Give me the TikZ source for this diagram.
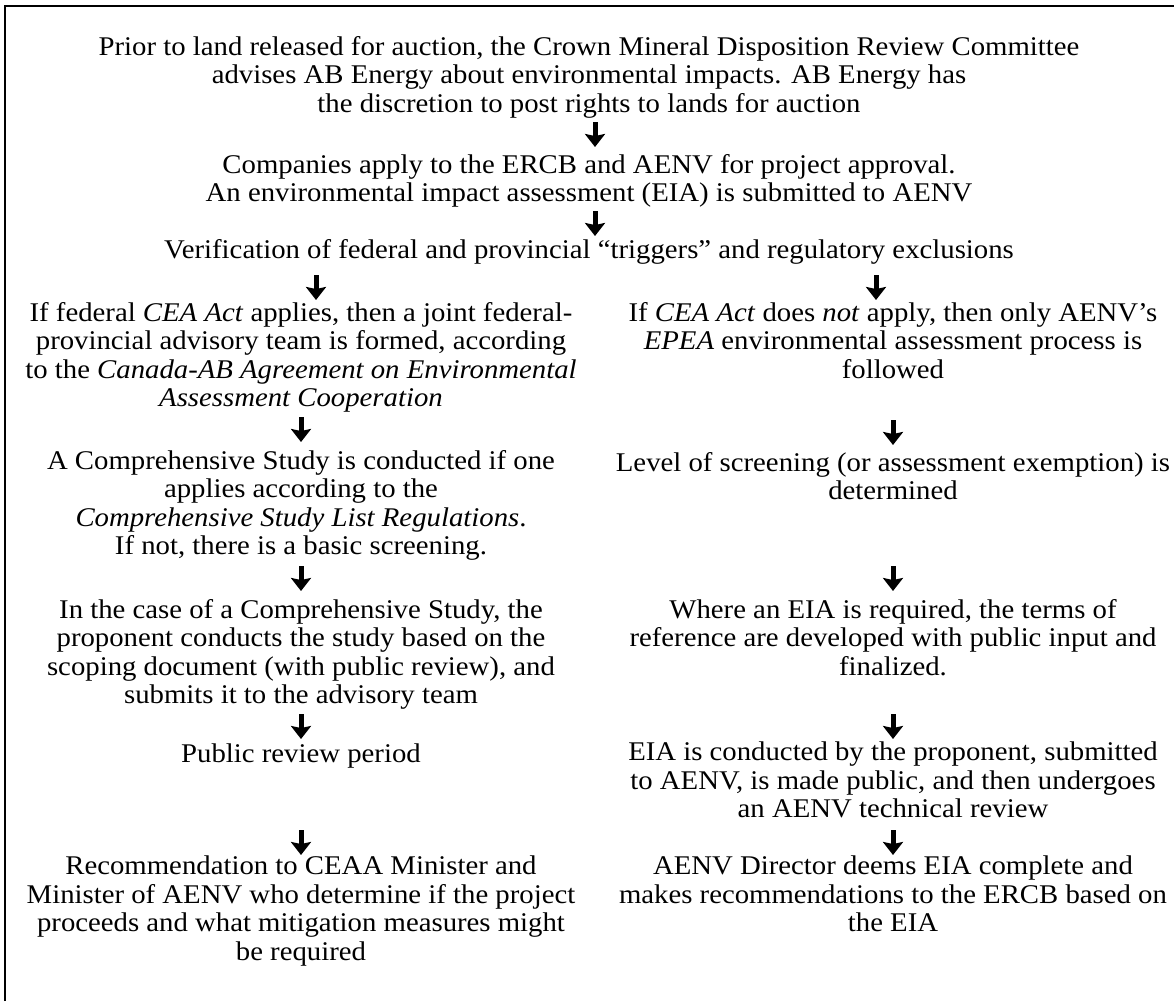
\documentclass[tikz,border=0pt]{standalone}
\usepackage{fontspec}
\setmainfont[FakeStretch=1.065]{Liberation Serif}
\usetikzlibrary{arrows.meta}
\begin{document}
\begin{tikzpicture}[x=1pt,y=-1pt,
  txt/.style={anchor=north, inner sep=0pt, align=center,
    font=\fontsize{27}{28.5}\selectfont, execute at begin node=\strut},
  arr/.style={line width=5pt, -{Stealth[length=13pt,width=20pt,inset=2pt]}}]
\useasboundingbox (0,0) rectangle (1174,1001);
\draw[line width=2pt] (5,1001) -- (5,6) -- (1174,6);
% top blocks (north = baseline - 20)
\node[txt] (t1) at (589,36) {Prior to land released for auction, the Crown Mineral Disposition Review Committee\\advises AB Energy about environmental impacts. AB Energy has\\the discretion to post rights to lands for auction};
\node[txt] (t2) at (589,154) {Companies apply to the ERCB and AENV for project approval.\\An environmental impact assessment (EIA) is submitted to AENV};
\node[txt] (t3) at (589,238) {Verification of federal and provincial “triggers” and regulatory exclusions};
% left column
\node[txt] (l1) at (301,302) {If federal \textit{CEA Act} applies, then a joint federal-\\provincial advisory team is formed, according\\to the \textit{Canada-AB Agreement on Environmental}\\\textit{Assessment Cooperation}};
\node[txt] (l2) at (301,450) {A Comprehensive Study is conducted if one\\applies according to the\\\textit{Comprehensive Study List Regulations}.\\If not, there is a basic screening.};
\node[txt] (l3) at (301,599) {In the case of a Comprehensive Study, the\\proponent conducts the study based on the\\scoping document (with public review), and\\submits it to the advisory team};
\node[txt] (l4) at (301,742) {Public review period};
\node[txt] (l5) at (301,856) {Recommendation to CEAA Minister and\\Minister of AENV who determine if the project\\proceeds and what mitigation measures might\\be required};
% right column
\node[txt] (r1) at (893,302) {If \textit{CEA Act} does \textit{not} apply, then only AENV’s\\\textit{EPEA} environmental assessment process is\\followed};
\node[txt] (r2) at (893,452) {Level of screening (or assessment exemption) is\\determined};
\node[txt] (r3) at (893,599) {Where an EIA is required, the terms of\\reference are developed with public input and\\finalized.};
\node[txt] (r4) at (893,742) {EIA is conducted by the proponent, submitted\\to AENV, is made public, and then undergoes\\an AENV technical review};
\node[txt] (r5) at (893,856) {AENV Director deems EIA complete and\\makes recommendations to the ERCB based on\\the EIA};
% arrow coordinates
\coordinate (a1s) at (595,122); \coordinate (a1e) at (595,147);
\coordinate (a2s) at (595,211); \coordinate (a2e) at (595,236);
\coordinate (a3s) at (316,275); \coordinate (a3e) at (316,300);
\coordinate (a4s) at (876,275); \coordinate (a4e) at (876,300);
\coordinate (l1s) at (301,417); \coordinate (l1e) at (301,442);
\coordinate (l2s) at (301,566); \coordinate (l2e) at (301,591);
\coordinate (l3s) at (301,714); \coordinate (l3e) at (301,739);
\coordinate (l4s) at (301,830); \coordinate (l4e) at (301,855);
\coordinate (r1s) at (893,420); \coordinate (r1e) at (893,445);
\coordinate (r2s) at (893,566); \coordinate (r2e) at (893,591);
\coordinate (r3s) at (893,714); \coordinate (r3e) at (893,739);
\coordinate (r4s) at (893,830); \coordinate (r4e) at (893,855);
\foreach \a in {a1,a2,a3,a4,l1,l2,l3,l4,r1,r2,r3,r4}
  \draw[arr] (\a s) -- (\a e);
\end{tikzpicture}
\end{document}
